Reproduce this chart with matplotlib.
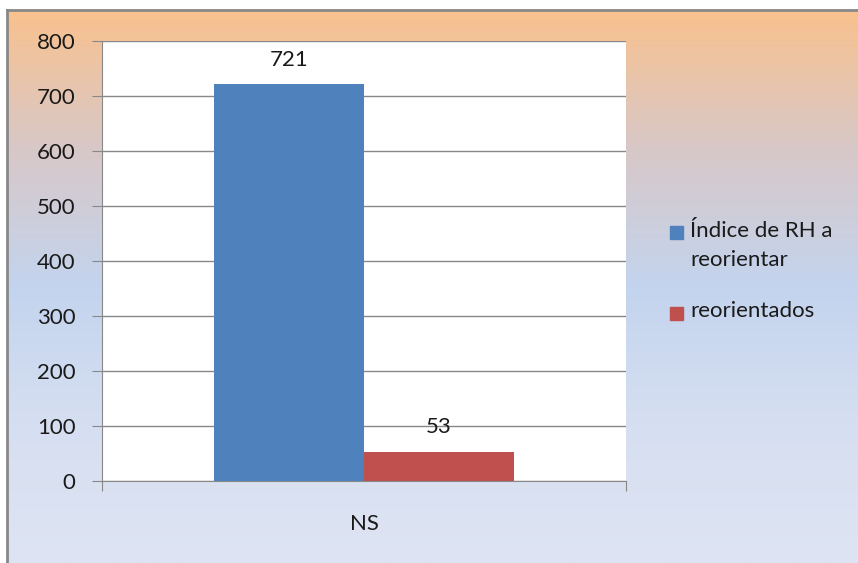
import matplotlib.pyplot as plt
import matplotlib.colors as mcolors
from matplotlib.patches import Rectangle
import numpy as np

plt.rcParams['font.family'] = ['Lato', 'DejaVu Sans']

categorias = ['NS']
series = ['Índice de RH a\nreorientar', 'reorientados']
valores = [721, 53]
colores = ['#4F81BD', '#C0504D']

W, H = 858, 563
fig = plt.figure(figsize=(W / 100, H / 100), dpi=100)

# fondo con degradado
bg = fig.add_axes([7 / W, 0, 1 - 7 / W, 1 - 10 / H])
cmap = mcolors.LinearSegmentedColormap.from_list(
    'fondo', ['#F9C18E', '#D8C8C8', '#C3D4EE', '#D6DFF1', '#DEE4F3'])
grad = np.linspace(0, 1, 256).reshape(-1, 1)
bg.imshow(grad, aspect='auto', cmap=cmap, extent=[0, 1, 0, 1], origin='upper')
bg.set_xlim(0, 1)
bg.set_ylim(0, 1)
bg.set_xticks([])
bg.set_yticks([])
for s in ['right', 'bottom']:
    bg.spines[s].set_visible(False)
for s in ['left', 'top']:
    bg.spines[s].set_color('#888888')
    bg.spines[s].set_linewidth(2)

ax = fig.add_axes([102 / W, 1 - 481 / H, 524 / W, 440 / H])
ax.set_facecolor('white')
w = 0.2857
x = np.arange(len(categorias))
for i, (v, c) in enumerate(zip(valores, colores)):
    ax.bar(x + (i - 0.5) * w, [v], width=w, color=c, label=series[i], zorder=3)
    ax.text(x[0] + (i - 0.5) * w, v + 27, str(v), ha='center', va='bottom',
            fontsize=16, color='#1a1a1a')

ax.set_xlim(-0.5, 0.5)
ax.set_ylim(0, 800)
ax.set_yticks(range(0, 801, 100))
ax.yaxis.grid(True, color='#888888', linewidth=1, zorder=0)
ax.set_xticks([-0.5, 0.5])
ax.set_xticklabels([])
ax.set_xticks([0], minor=True)
ax.set_xticklabels(categorias, minor=True)
ax.tick_params(axis='x', which='minor', length=0, pad=24, labelsize=16,
               labelcolor='#1a1a1a')
ax.tick_params(axis='x', which='major', length=7, color='#888888')
ax.tick_params(axis='y', length=7, color='#888888', labelsize=16,
               labelcolor='#1a1a1a', pad=12)
for s in ['top', 'right']:
    ax.spines[s].set_visible(False)
for s in ['left', 'bottom']:
    ax.spines[s].set_color('#888888')

# leyenda a mano (cuadro alineado con la primera línea)
leg_y = [233, 313]
for lab, c, yy in zip(series, colores, leg_y):
    fig.patches.append(Rectangle((670 / W, 1 - (yy + 6.5) / H), 13 / W, 13 / H,
                                 transform=fig.transFigure, color=c))
    fig.text(690 / W, 1 - (yy - 12) / H, lab, ha='left', va='top', fontsize=16,
             color='#1a1a1a', linespacing=1.55)

fig.savefig('out.png', dpi=100)
